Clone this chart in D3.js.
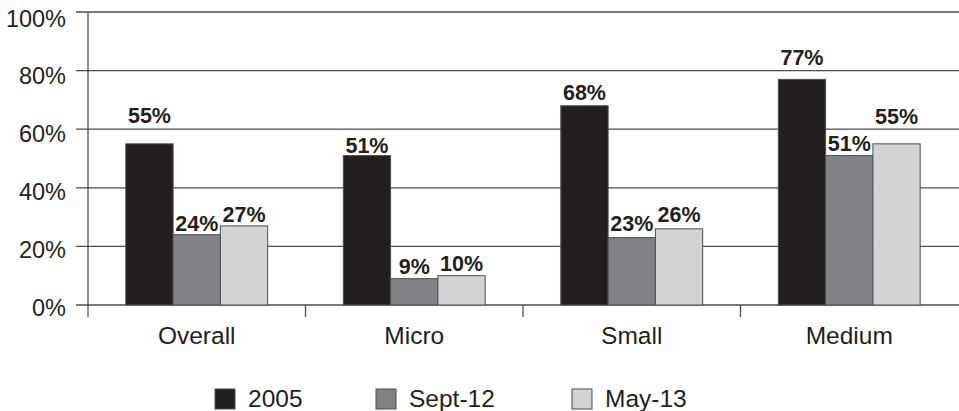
<!DOCTYPE html>
<html>
<head>
<meta charset="utf-8">
<script src="https://cdn.jsdelivr.net/npm/d3@7"></script>
<style>
  html, body { margin: 0; padding: 0; background: #fff; }
  svg { display: block; }
  text { font-family: "Liberation Sans", Arial, Helvetica, sans-serif; fill: #231f20; }
  .val { font-weight: bold; }
</style>
</head>
<body>
<svg id="chart" width="959" height="411"></svg>
<script>
// Share of firms, by firm size, across three survey waves
const categories = ["Overall", "Micro", "Small", "Medium"];
const seriesNames = ["2005", "Sept-12", "May-13"];
const values2005 = [55, 51, 68, 77];
const valuesSept12 = [24, 9, 23, 51];
const valuesMay13 = [27, 10, 26, 55];
const yTicks = [0, 20, 40, 60, 80, 100];

// Extra lift (px) of each value label above its bar, per category and series
const labelLift = [[21, 4, 4], [3, 5, 5], [6, 7, 7], [14, 5, 20]];
// Left edge of each legend entry
const legendX = [215, 376, 572];

const seriesValues = [values2005, valuesSept12, valuesMay13];
const colors = ["#231f20", "#808285", "#d1d3d4"];

const svg = d3.select("#chart");
const plotLeft = 88, plotRight = 958, plotTop = 12, plotBottom = 305;

const x = d3.scaleBand().domain(categories).range([plotLeft, plotRight]).paddingInner(0).paddingOuter(0);
const xs = d3.scaleBand().domain(seriesNames).range([0, x.bandwidth()]).paddingInner(0).paddingOuter(0.8);
const y = d3.scaleLinear().domain([0, 100]).range([plotBottom, plotTop]);
// tick labels sit on a slightly tighter ladder than the gridlines
const yLabel = d3.scaleLinear().domain([0, 100]).range([plotBottom + 2.5, plotTop + 6.5]);

// Horizontal gridlines with outward ticks and labels
const grid = svg.append("g");
yTicks.forEach(t => {
  grid.append("line")
    .attr("x1", plotLeft - 12).attr("x2", 959)
    .attr("y1", y(t)).attr("y2", y(t))
    .attr("stroke", "#4d4d4f").attr("stroke-width", 1.3);
  grid.append("text")
    .attr("x", plotLeft - 22).attr("y", yLabel(t) + 8)
    .attr("text-anchor", "end")
    .attr("font-size", 23.5)
    .text(t + "%");
});

// Bars
const barG = svg.append("g");
categories.forEach((c, ci) => {
  seriesNames.forEach((s, si) => {
    const v = seriesValues[si][ci];
    barG.append("rect")
      .attr("x", x(c) + xs(s))
      .attr("y", y(v))
      .attr("width", xs.bandwidth())
      .attr("height", y(0) - y(v))
      .attr("fill", colors[si])
      .attr("stroke", "#4d4d4f")
      .attr("stroke-width", 1);
  });
});

// Vertical axis line and category separators
svg.append("line")
  .attr("x1", plotLeft).attr("x2", plotLeft)
  .attr("y1", y(100)).attr("y2", plotBottom + 12)
  .attr("stroke", "#4d4d4f").attr("stroke-width", 1.3);
categories.slice(1).forEach(c => {
  svg.append("line")
    .attr("x1", x(c)).attr("x2", x(c))
    .attr("y1", plotBottom).attr("y2", plotBottom + 12)
    .attr("stroke", "#4d4d4f").attr("stroke-width", 1.3);
});

// Category labels
categories.forEach(c => {
  svg.append("text")
    .attr("x", x(c) + x.bandwidth() / 2)
    .attr("y", 344)
    .attr("text-anchor", "middle")
    .attr("font-size", 24.5)
    .text(c);
});

// Value labels
categories.forEach((c, ci) => {
  seriesNames.forEach((s, si) => {
    const v = seriesValues[si][ci];
    svg.append("text")
      .attr("class", "val")
      .attr("x", x(c) + xs(s) + xs.bandwidth() / 2)
      .attr("y", y(v) - labelLift[ci][si])
      .attr("text-anchor", "middle")
      .attr("font-size", 21.5)
      .text(v + "%");
  });
});

// Legend
const legend = svg.append("g").attr("transform", "translate(0,389)");
seriesNames.forEach((s, si) => {
  legend.append("rect")
    .attr("x", legendX[si]).attr("y", 0)
    .attr("width", 20).attr("height", 20)
    .attr("fill", colors[si])
    .attr("stroke", "#4d4d4f").attr("stroke-width", 1);
  legend.append("text")
    .attr("x", legendX[si] + 33).attr("y", 18)
    .attr("font-size", 24.5)
    .text(s);
});
</script>
</body>
</html>
